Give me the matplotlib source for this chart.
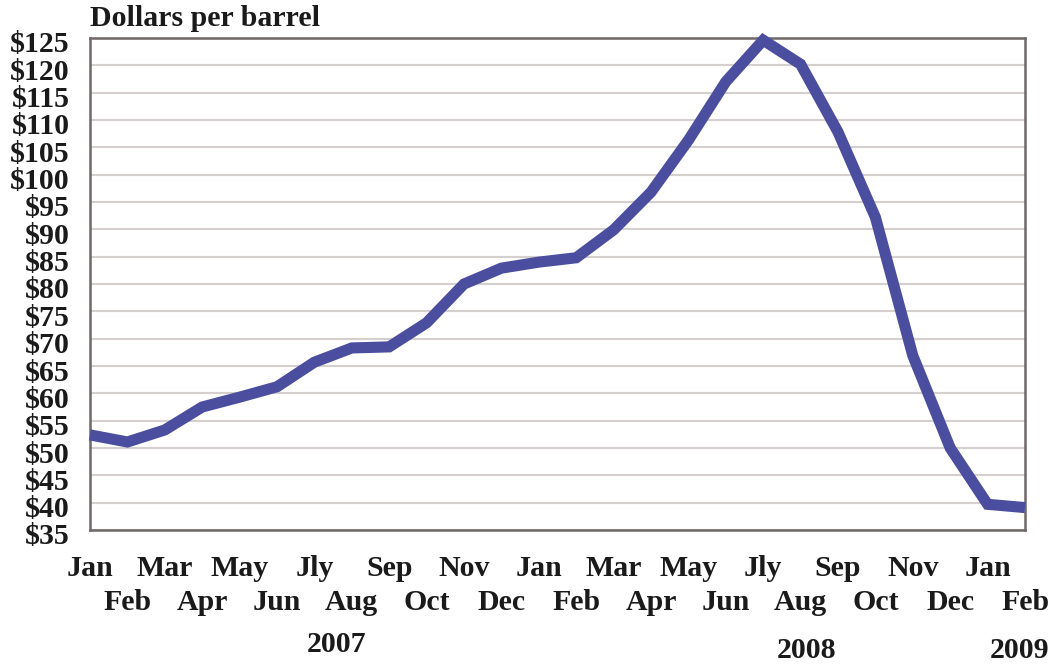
import matplotlib
matplotlib.use("Agg")
import matplotlib.pyplot as plt
import matplotlib.transforms as mtransforms

months = ["Jan", "Feb", "Mar", "Apr", "May", "Jun", "Jly", "Aug", "Sep", "Oct", "Nov", "Dec",
          "Jan", "Feb", "Mar", "Apr", "May", "Jun", "Jly", "Aug", "Sep", "Oct", "Nov", "Dec",
          "Jan", "Feb"]
prices = [52.4, 51.1, 53.3, 57.5, 59.3, 61.2, 65.7, 68.3, 68.5, 72.9, 80.0, 82.9,
          84.0, 84.8, 89.9, 96.8, 106.3, 117.0, 124.6, 120.2, 107.8, 92.2, 66.9, 50.0,
          39.7, 39.1]
years = ["2007", "2008", "2009"]
year_pos = [6.6, 19.15, 24.85]
yticks = list(range(35, 130, 5))
ytick_labels = ["$%d" % v for v in yticks]

FS = 21.5
plt.rcParams['font.family'] = ['Liberation Serif', 'DejaVu Serif']
plt.rcParams['font.weight'] = 'bold'

fig = plt.figure(figsize=(10.52, 6.64), dpi=100)
ax = fig.add_axes([90/1052, 1-530/664, (1025-90)/1052, (530-38)/664])

x = list(range(len(prices)))
ax.plot(x, prices, color="#4B4E9F", lw=8, solid_capstyle="butt",
        solid_joinstyle="miter", clip_on=False, zorder=5)

ax.set_xlim(0, len(prices) - 1)
ax.set_ylim(35, 125)
ax.set_yticks(yticks)
ax.set_yticklabels(ytick_labels, fontsize=FS, fontweight="bold", color="#1a1a1a")
ax.tick_params(axis="y", length=0, pad=14.5)
ax.set_xticks([])
ax.grid(axis="y", color="#D5D0CE", lw=1.5)
ax.set_axisbelow(True)
for s in ax.spines.values():
    s.set_color("#6E6866")
    s.set_linewidth(1.8)

offset = mtransforms.ScaledTranslation(0, -4/100, fig.dpi_scale_trans)
for lab in ax.get_yticklabels():
    lab.set_transform(lab.get_transform() + offset)

trans = mtransforms.blended_transform_factory(ax.transData, fig.transFigure)
for i, m in enumerate(months):
    ypix = 568 if i % 2 == 0 else 603
    ax.text(i, 1 - ypix/664, m, transform=trans, ha="center", va="center",
            fontsize=FS, fontweight="bold", color="#1a1a1a")

for yr, p, ypix in zip(years, year_pos, [645, 650, 650]):
    ax.text(p, 1 - ypix/664, yr, transform=trans, ha="center", va="center",
            fontsize=FS, fontweight="bold", color="#1a1a1a")

fig.text(90/1052, 1 - 18/664, "Dollars per barrel", ha="left", va="center",
         fontsize=FS, fontweight="bold", color="#1a1a1a")

fig.savefig("out.png", dpi=100, facecolor="white")
